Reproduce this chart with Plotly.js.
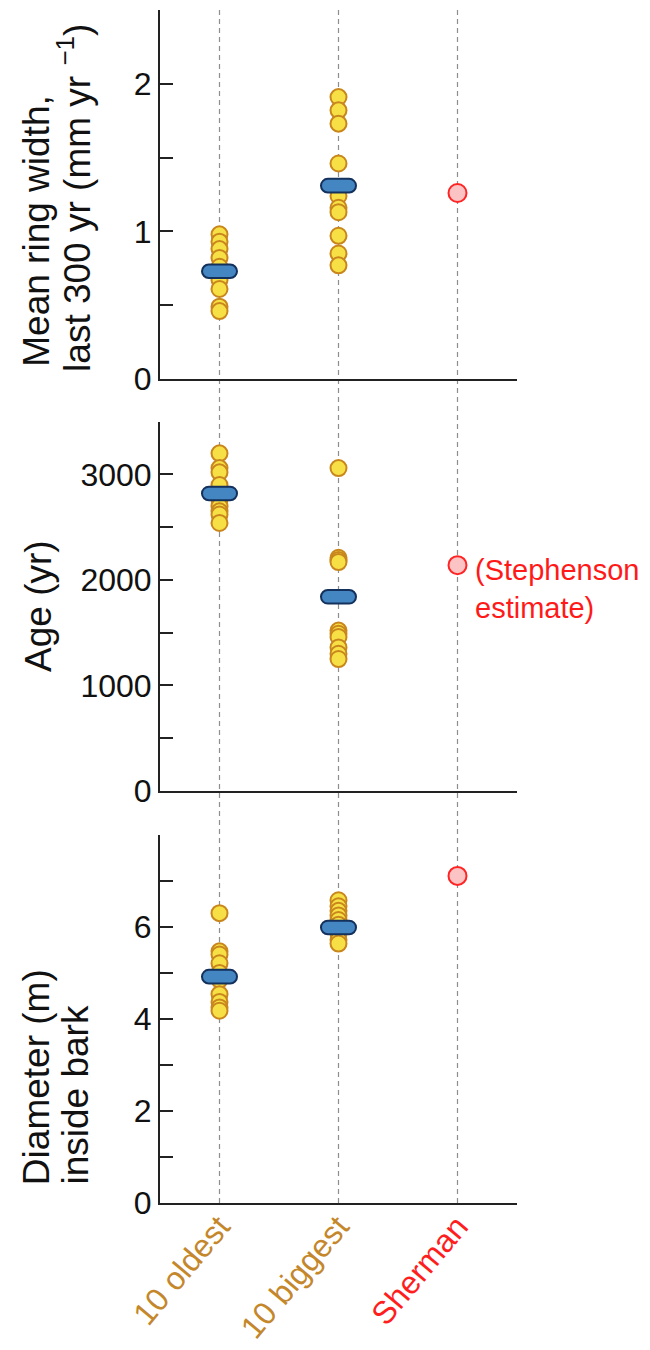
<!DOCTYPE html>
<html>
<head>
<meta charset="utf-8">
<script src="https://cdn.plot.ly/plotly-3.0.1.min.js"></script>
<style>
  html, body { margin: 0; padding: 0; background: #ffffff; }
  #chart { width: 650px; height: 1350px; }
</style>
</head>
<body>
<div id="chart"></div>
<script>
// ---------------- data ----------------
const categories = ['10 oldest', '10 biggest', 'Sherman'];
const categoryColors = ['#C4872B', '#C4872B', '#FF1E1E'];

// Mean ring width, last 300 yr (mm/yr)
const ringOldest = [0.98, 0.93, 0.88, 0.82, 0.76, 0.71, 0.67, 0.61, 0.49, 0.46];
const ringBiggest = [1.91, 1.82, 1.73, 1.46, 1.24, 1.16, 1.13, 0.97, 0.85, 0.77];
const ringMeans = [0.73, 1.31];
const ringSherman = 1.26;

// Age (yr)
const ageOldest = [3200, 3060, 3020, 2900, 2800, 2760, 2700, 2650, 2620, 2540];
const ageBiggest = [3060, 2210, 2190, 2170, 1520, 1490, 1460, 1360, 1300, 1250];
const ageMeans = [2820, 1840];
const ageSherman = 2140;

// Diameter (m) inside bark
const diamOldest = [6.30, 5.47, 5.40, 5.21, 5.00, 4.85, 4.54, 4.37, 4.25, 4.18];
const diamBiggest = [6.58, 6.45, 6.35, 6.25, 6.15, 6.05, 5.95, 5.85, 5.72, 5.64];
const diamMeans = [4.92, 5.99];
const diamSherman = 7.11;

// tick labels (major) and minor tick positions
const ringTickVals = [0, 1, 2];
const ringTickText = ['0', '1', '2'];
const ringMinorVals = [0.5, 1.5];
const ageTickVals = [0, 1000, 2000, 3000];
const ageTickText = ['0', '1000', '2000', '3000'];
const ageMinorVals = [500, 1500, 2500];
const diamTickVals = [0, 2, 4, 6];
const diamTickText = ['0', '2', '4', '6'];
const diamMinorVals = [1, 3, 5, 7];

const stephensonLines = ['(Stephenson', 'estimate)'];

// ---------------- styling ----------------
const SANS = '"Liberation Sans", Arial, Helvetica, sans-serif';
const AXIS_COLOR = '#222222';

const panels = [
  { s: '', oldest: ringOldest, biggest: ringBiggest, means: ringMeans, sherman: ringSherman,
    range: [0, 2.5], tickvals: ringTickVals, ticktext: ringTickText, minor: ringMinorVals, domain: [0.6907, 1] },
  { s: '2', oldest: ageOldest, biggest: ageBiggest, means: ageMeans, sherman: ageSherman,
    range: [0, 3500], tickvals: ageTickVals, ticktext: ageTickText, minor: ageMinorVals, domain: [0.3454, 0.6549] },
  { s: '3', oldest: diamOldest, biggest: diamBiggest, means: diamMeans, sherman: diamSherman,
    range: [0, 8], tickvals: diamTickVals, ticktext: diamTickText, minor: diamMinorVals, domain: [0, 0.3085] }
];

// rounded "pill" used for group means (pixel-sized, anchored at the data value)
function pillPath(hw, hh) {
  const k = 0.552 * hh;
  const a = hw - hh;
  return `M ${-a},${-hh} L ${a},${-hh} C ${a + k},${-hh} ${hw},${-k} ${hw},0 ` +
         `C ${hw},${k} ${a + k},${hh} ${a},${hh} L ${-a},${hh} ` +
         `C ${-a - k},${hh} ${-hw},${k} ${-hw},0 C ${-hw},${-k} ${-a - k},${-hh} ${-a},${-hh} Z`;
}
const PILL = pillPath(17.5, 6.8);

const traces = [];
const shapes = [];
const layout = {
  width: 650,
  height: 1350,
  margin: { l: 160, r: 133, t: 10, b: 147 },
  paper_bgcolor: '#ffffff',
  plot_bgcolor: '#ffffff',
  showlegend: false,
  hovermode: false,
  annotations: [],
  shapes: shapes
};

const yellowMarker = { size: 16, color: '#F7E045', line: { color: '#C8861C', width: 2 } };
const shermanMarker = { size: 18, color: '#FBC3C3', line: { color: '#FF2424', width: 2 } };

panels.forEach(p => {
  const xa = 'x' + p.s, ya = 'y' + p.s;
  traces.push({ type: 'scatter', mode: 'markers', x: p.oldest.map(() => 0), y: p.oldest,
    xaxis: xa, yaxis: ya, marker: yellowMarker, cliponaxis: false });
  traces.push({ type: 'scatter', mode: 'markers', x: p.biggest.map(() => 1), y: p.biggest,
    xaxis: xa, yaxis: ya, marker: yellowMarker, cliponaxis: false });
  traces.push({ type: 'scatter', mode: 'markers', x: [2], y: [p.sherman],
    xaxis: xa, yaxis: ya, marker: shermanMarker, cliponaxis: false });

  p.means.forEach((m, i) => {
    shapes.push({ type: 'path', xref: xa, yref: ya, xsizemode: 'pixel', ysizemode: 'pixel',
      xanchor: i, yanchor: m, path: PILL, fillcolor: '#4386C1',
      line: { color: '#14305C', width: 2 }, layer: 'above' });
  });

  const isBottom = p.s === '3';
  layout['xaxis' + p.s] = {
    domain: [0, 1], anchor: ya, range: [-0.5, 2.5], fixedrange: true,
    showline: true, linecolor: AXIS_COLOR, linewidth: 2, mirror: false,
    showgrid: false, zeroline: false, ticks: '',
    tickmode: 'array', tickvals: categories.map((c, i) => i),
    ticktext: categories.map((c, i) => `<span style="color:${categoryColors[i]}">${c}</span>`),
    showticklabels: isBottom, tickangle: -50, ticklabelstandoff: -10,
    tickfont: { family: SANS, size: 32, color: categoryColors[0] }
  };
  layout['yaxis' + p.s] = {
    domain: p.domain, anchor: xa, range: p.range, fixedrange: true,
    showline: true, linecolor: AXIS_COLOR, linewidth: 2,
    showgrid: false, zeroline: false,
    ticks: 'inside', ticklen: 13, tickwidth: 2, tickcolor: AXIS_COLOR,
    tickmode: 'array', tickvals: p.tickvals, ticktext: p.ticktext,
    minor: { tickmode: 'array', tickvals: p.minor, ticks: 'inside', ticklen: 13,
             tickwidth: 2, tickcolor: AXIS_COLOR, showgrid: false },
    tickfont: { family: SANS, size: 32, color: '#111111' }
  };
});

// dashed category guide lines through all panels
categories.forEach((c, i) => {
  shapes.push({ type: 'line', xref: 'x', yref: 'paper', x0: i, x1: i, y0: 0, y1: 1.003,
    line: { color: '#8e8e8e', width: 1.2, dash: '5px,4px' }, layer: 'below' });
});

// y-axis titles (left aligned lines, as in the reference)
const titleFont = { family: SANS, size: 37, color: '#111111' };
const titles = [
  { text: 'Mean ring width,', x: -0.347, y: 0.699 },
  { text: 'last 300 yr (mm yr <sup>−1</sup>)', x: -0.238, y: 0.695 },
  { text: 'Age (yr)', x: -0.342, y: 0.4434 },
  { text: 'Diameter (m)', x: -0.347, y: 0.0134 },
  { text: 'inside bark', x: -0.238, y: 0.0134 }
];
titles.forEach(t => {
  layout.annotations.push({ xref: 'paper', yref: 'paper', x: t.x, y: t.y,
    xanchor: 'center', yanchor: 'bottom', textangle: -90, showarrow: false,
    text: t.text, font: titleFont });
});

// Stephenson estimate label next to Sherman's age
stephensonLines.forEach((line, k) => {
  layout.annotations.push({ xref: 'x2', yref: 'y2', x: 2, y: ageSherman,
    xanchor: 'left', yanchor: 'middle', xshift: 15, yshift: -5 - 38 * k,
    showarrow: false, text: line, font: { family: SANS, size: 29, color: '#FF1A1A' } });
});

Plotly.newPlot('chart', traces, layout, { staticPlot: true, displayModeBar: false });
</script>
</body>
</html>
